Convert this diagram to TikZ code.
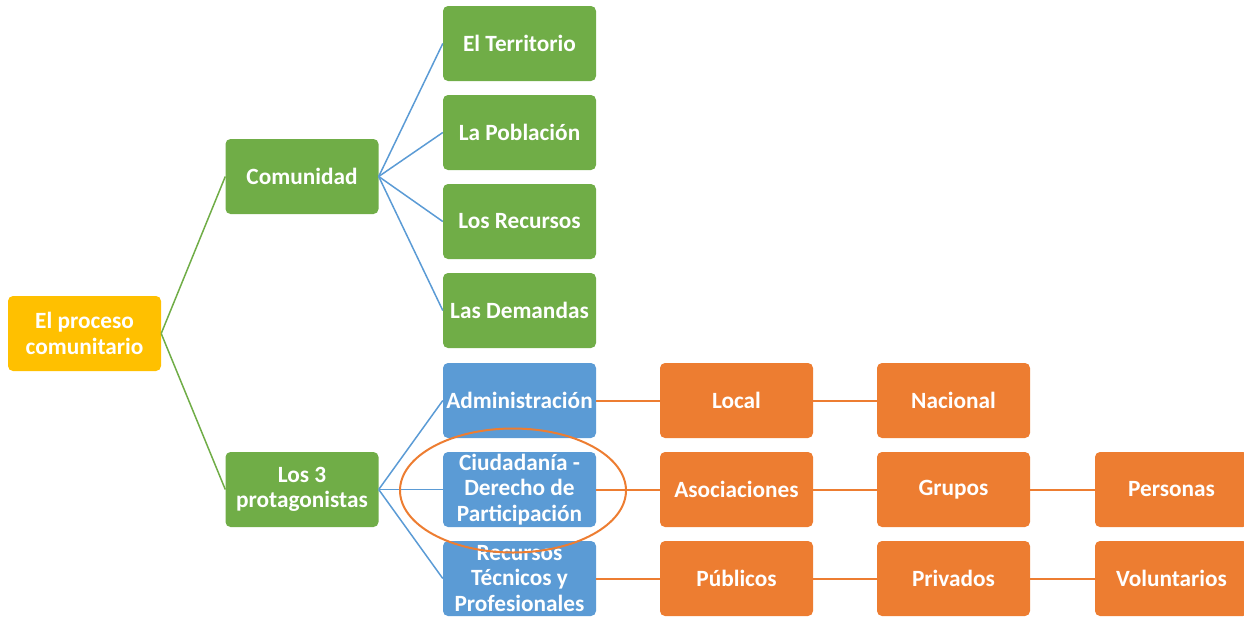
\documentclass[tikz,border=0pt]{standalone}
\usepackage{fontspec}
\setmainfont{Carlito}
\usetikzlibrary{shapes.geometric}
\definecolor{cgreen}{HTML}{70AD47}
\definecolor{cblue}{HTML}{5B9BD5}
\definecolor{corange}{HTML}{ED7D31}
\definecolor{cyellow}{HTML}{FFC000}
\tikzset{
  box/.style={rectangle, rounded corners=5pt, minimum width=153pt, minimum height=75pt,
    inner sep=0pt, align=center, text=white, font=\fontsize{23.3}{25.5}\selectfont\bfseries},
  gbox/.style={box, fill=cgreen},
  bbox/.style={box, fill=cblue},
  obox/.style={box, fill=corange},
  ybox/.style={box, fill=cyellow},
  gline/.style={draw=cgreen, line width=1.5pt},
  bline/.style={draw=cblue, line width=1.5pt},
  oline/.style={draw=corange, line width=2pt},
}
\begin{document}
\begin{tikzpicture}[x=1pt,y=-1pt]
\useasboundingbox (0,0) rectangle (1244,619);
\node[ybox] (root) at (84.5,333.5) {El proceso\\comunitario};
\node[gbox] (com) at (302,176.5) {Comunidad};
\node[gbox] (prot) at (302,489.5) {Los 3\\protagonistas};
\node[gbox] (ter) at (519.5,43.5) {El Territorio};
\node[gbox] (pob) at (519.5,132.5) {La Población};
\node[gbox] (rec) at (519.5,221.5) {Los Recursos};
\node[gbox] (dem) at (519.5,310.5) {Las Demandas};
\node[bbox] (adm) at (519.5,400.5) {Administración};
\node[bbox] (ciu) at (519.5,489.5) {Ciudadanía -\\Derecho de\\Participación};
\node[bbox] (rtp) at (519.5,578.5) {Recursos\\Técnicos y\\Profesionales};
\node[obox] (loc) at (736.5,400.5) {Local};
\node[obox] (nac) at (953.5,400.5) {Nacional};
\node[obox] (aso) at (736.5,489.5) {Asociaciones};
\node[obox] (gru) at (953.5,489.5) {Grupos};
\node[obox] (per) at (1171.5,489.5) {Personas};
\node[obox] (pub) at (736.5,578.5) {Públicos};
\node[obox] (pri) at (953.5,578.5) {Privados};
\node[obox] (vol) at (1171.5,578.5) {Voluntarios};
\foreach \t in {com,prot} \draw[gline] (root.east) -- (\t.west);
\foreach \t in {ter,pob,rec,dem} \draw[bline] (com.east) -- (\t.west);
\foreach \t in {adm,ciu,rtp} \draw[bline] (prot.east) -- (\t.west);
\draw[oline] (adm) -- (loc);
\draw[oline] (loc) -- (nac);
\draw[oline] (ciu) -- (aso);
\draw[oline] (aso) -- (gru);
\draw[oline] (gru) -- (per);
\draw[oline] (rtp) -- (pub);
\draw[oline] (pub) -- (pri);
\draw[oline] (pri) -- (vol);
\node[draw=corange, line width=2pt, ellipse, minimum width=226pt, minimum height=124pt, inner sep=0pt] (ell) at (513,490.5) {};
\end{tikzpicture}
\end{document}
